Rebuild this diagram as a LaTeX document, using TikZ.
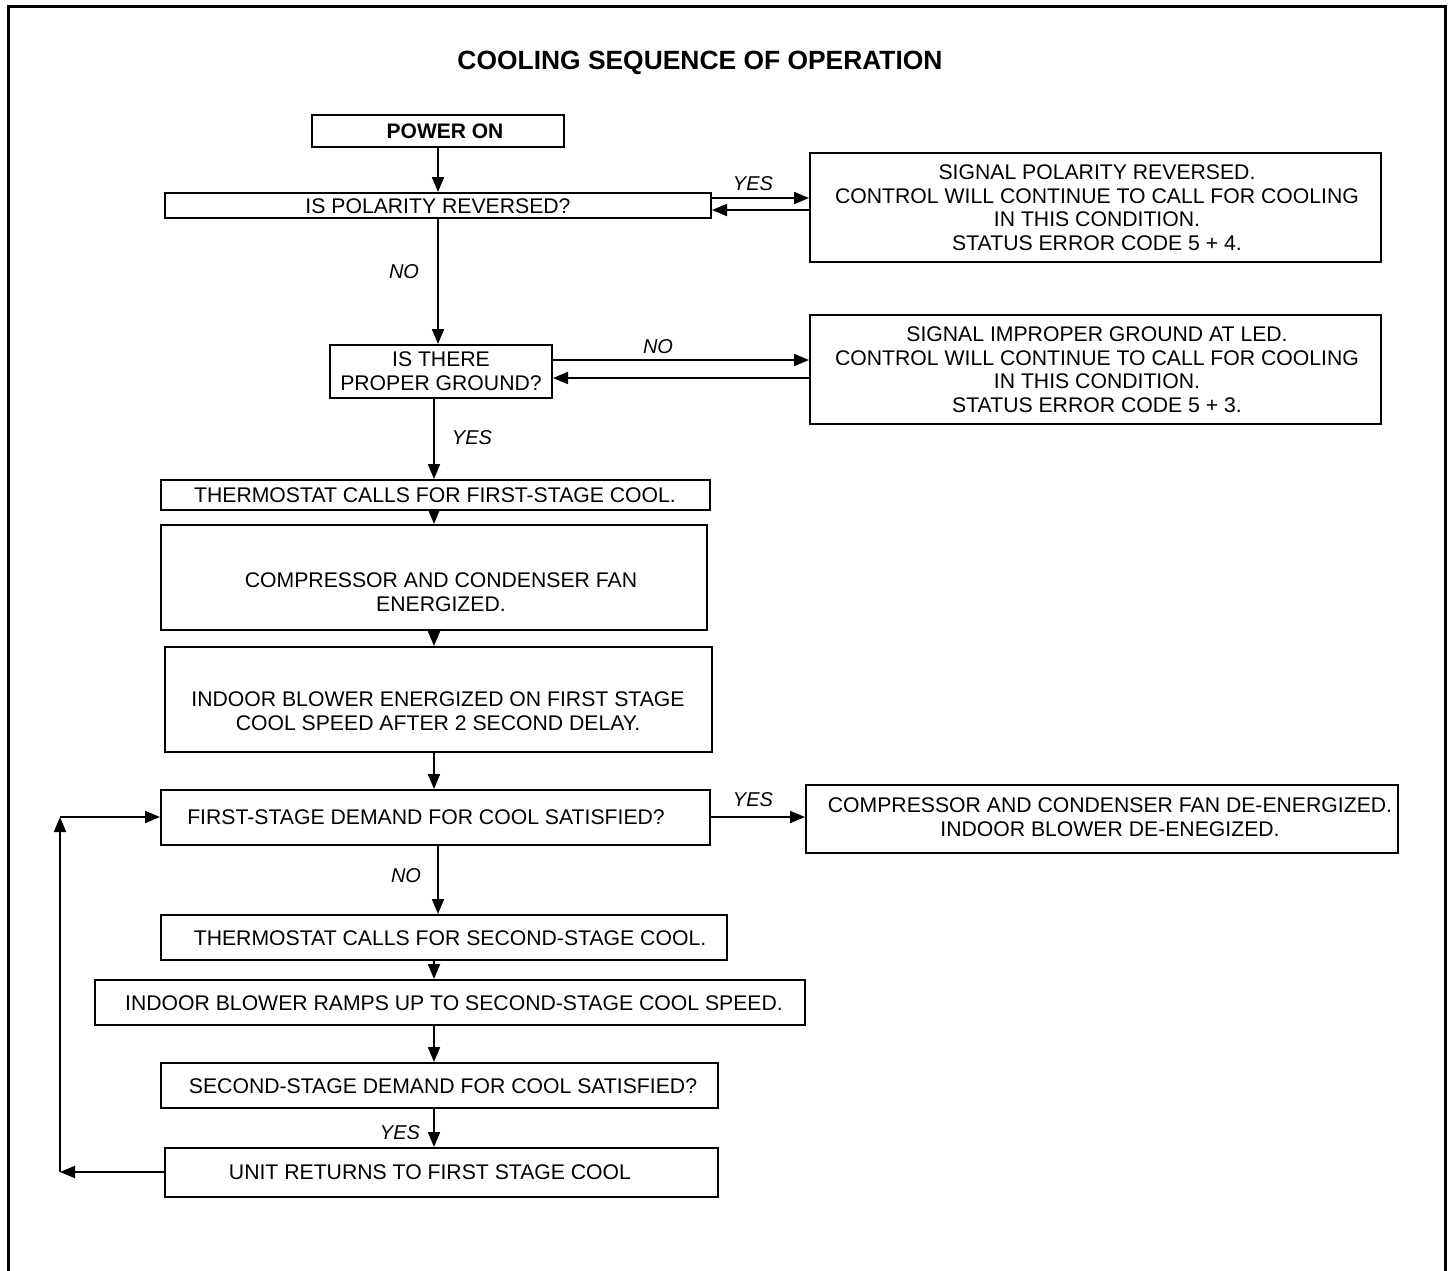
\documentclass[tikz,border=0pt]{standalone}
\usepackage{fontspec}
\setmainfont{Liberation Sans}
\usetikzlibrary{arrows.meta}
\newcommand\mkbox[5]{\node[boxst, minimum width={#4-#2}, minimum height={#5-#3}] (#1) at ({(#2+#4)/2},{(#3+#5)/2}) {};}
\begin{document}
\begin{tikzpicture}[x=1pt,y=-1pt,
  boxst/.style={draw, line width=2pt, inner sep=0pt, rectangle},
  txt/.style={font=\fontsize{21.2}{23.6}\selectfont, align=center, inner sep=0pt},
  lbl/.style={font=\fontsize{20}{22}\selectfont\itshape, inner sep=0pt},
  arr/.style={line width=2pt, -{Triangle[length=15pt,width=12pt]}},
]
\useasboundingbox (0,0) rectangle (1452,1270);
\draw[line width=3pt] (8,1300) -- (8,6) -- (1445,6) -- (1445,1300);

\node[font=\fontsize{26.4}{28}\selectfont\bfseries, inner sep=0pt] (title) at (700,63) {COOLING SEQUENCE OF OPERATION};

% boxes
\mkbox{pwr}{312}{115}{564}{147}
\mkbox{pol}{165}{193}{711}{218}
\mkbox{rA}{810}{153}{1381}{262}
\mkbox{gnd}{330}{345}{552}{398}
\mkbox{rB}{810}{315}{1381}{424}
\mkbox{thA}{161}{480}{710}{510}
\mkbox{comp}{161}{525}{707}{630}
\mkbox{ind}{165}{647}{712}{752}
\mkbox{fs}{161}{790}{710}{845}
\mkbox{rC}{806}{785}{1398}{853}
\mkbox{thB}{161}{915}{727}{960}
\mkbox{ramp}{95}{980}{805}{1025}
\mkbox{ss}{161}{1063}{718}{1108}
\mkbox{unit}{165}{1148}{718}{1197}

% texts
\node[txt, font=\fontsize{21}{23.6}\selectfont\bfseries] (pwr-t) at (445,131) {POWER ON};
\node[txt] (pol-t) at (438,206) {IS POLARITY REVERSED?};
\node[txt] (rA-t) at (1097,207.5) {SIGNAL POLARITY REVERSED.\\CONTROL WILL CONTINUE TO CALL FOR COOLING\\IN THIS CONDITION.\\STATUS ERROR CODE 5 + 4.};
\node[txt] (gnd-t) at (441,371) {IS THERE\\PROPER GROUND?};
\node[txt] (rB-t) at (1097,369.5) {SIGNAL IMPROPER GROUND AT LED.\\CONTROL WILL CONTINUE TO CALL FOR COOLING\\IN THIS CONDITION.\\STATUS ERROR CODE 5 + 3.};
\node[txt] (thA-t) at (435,495) {THERMOSTAT CALLS FOR FIRST-STAGE COOL.};
\node[txt] (comp-t) at (441,592) {COMPRESSOR AND CONDENSER FAN\\ENERGIZED.};
\node[txt] (ind-t) at (438,711) {INDOOR BLOWER ENERGIZED ON FIRST STAGE\\COOL SPEED AFTER 2 SECOND DELAY.};
\node[txt] (fs-t) at (426,817) {FIRST-STAGE DEMAND FOR COOL SATISFIED?};
\node[txt] (rC-t) at (1110,817) {COMPRESSOR AND CONDENSER FAN DE-ENERGIZED.\\INDOOR BLOWER DE-ENEGIZED.};
\node[txt] (thB-t) at (450,938) {THERMOSTAT CALLS FOR SECOND-STAGE COOL.};
\node[txt] (ramp-t) at (454,1003) {INDOOR BLOWER RAMPS UP TO SECOND-STAGE COOL SPEED.};
\node[txt] (ss-t) at (443,1086) {SECOND-STAGE DEMAND FOR COOL SATISFIED?};
\node[txt] (unit-t) at (430,1172) {UNIT RETURNS TO FIRST STAGE COOL};

% labels
\node[lbl] (l1) at (753,184) {YES};
\node[lbl] (l2) at (404,272) {NO};
\node[lbl] (l3) at (658,347) {NO};
\node[lbl] (l4) at (472,438) {YES};
\node[lbl] (l5) at (753,800) {YES};
\node[lbl] (l6) at (406,876) {NO};
\node[lbl] (l7) at (400,1133) {YES};

% helper coordinates
\coordinate (xa) at (438,0);
\coordinate (xb) at (434,0);
\coordinate (ya1) at (0,198);
\coordinate (ya2) at (0,210);
\coordinate (yb1) at (0,360);
\coordinate (yb2) at (0,378);
\coordinate (yc) at (0,817);
\coordinate (cl1) at (60,1172);
\coordinate (cl2) at (60,817);

% vertical flow
\draw[arr] (pwr.south -| xa) -- (pol.north -| xa);
\draw[arr] (pol.south -| xa) -- (gnd.north -| xa);
\draw[arr] (gnd.south -| xb) -- (thA.north -| xb);
\draw[arr] (thA.south -| xb) -- (comp.north -| xb);
\draw[arr] (comp.south -| xb) -- (ind.north -| xb);
\draw[arr] (ind.south -| xb) -- (fs.north -| xb);
\draw[arr] (fs.south -| xa) -- (thB.north -| xa);
\draw[arr] (thB.south -| xb) -- (ramp.north -| xb);
\draw[arr] (ramp.south -| xb) -- (ss.north -| xb);
\draw[arr] (ss.south -| xb) -- (unit.north -| xb);

% side branches
\draw[arr] (pol.east |- ya1) -- (rA.west |- ya1);
\draw[arr] (rA.west |- ya2) -- (pol.east |- ya2);
\draw[arr] (gnd.east |- yb1) -- (rB.west |- yb1);
\draw[arr] (rB.west |- yb2) -- (gnd.east |- yb2);
\draw[arr] (fs.east |- yc) -- (rC.west |- yc);

% loop back
\draw[arr] (unit.west |- cl1) -- (cl1);
\draw[arr] (cl1) -- (cl2);
\draw[arr] (cl2) -- (fs.west |- cl2);
\end{tikzpicture}
\end{document}
